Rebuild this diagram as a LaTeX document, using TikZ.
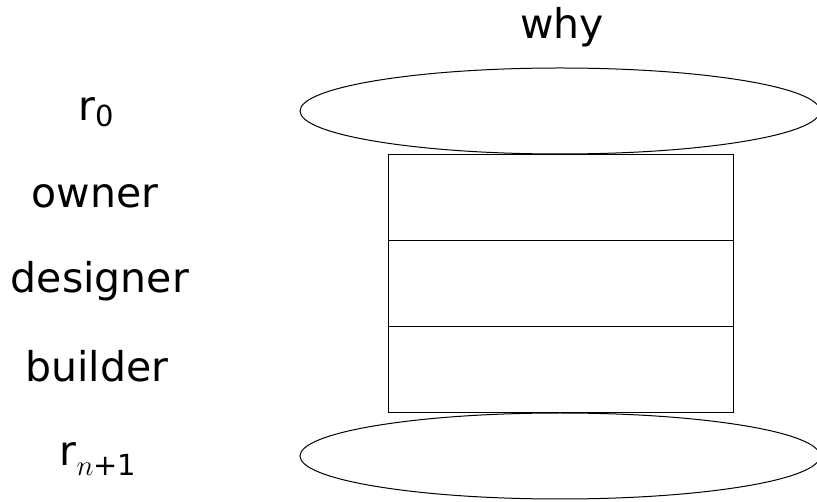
\RequirePackage{fix-cm}
\documentclass[tikz,border=0pt]{standalone}
\usepackage{amsmath}
\usepackage{fontspec}
\setmainfont{DejaVu Sans}
\usetikzlibrary{shapes.geometric}
\newcommand{\subtxt}[2]{\raisebox{#1}{\fontsize{29}{30}\selectfont #2}}
\begin{document}
\begin{tikzpicture}[x=1pt,y=-1pt,
  lbl/.style={font=\fontsize{41}{48}\selectfont, inner sep=0pt},
  oval/.style={draw, ellipse, line width=1pt, minimum width=520pt, minimum height=86pt, inner sep=0pt},
  cell/.style={draw, line width=1pt, minimum width=345pt, minimum height=86pt, inner sep=0pt}]
\useasboundingbox (0,0) rectangle (817,502);
\node[lbl] (why) at (562,27) {why};
\node[oval] (top) at (560,111) {};
\node[cell] (c1) at (560.5,198) {};
\node[cell] (c2) at (560.5,284) {};
\node[cell] (c3) at (560.5,370) {};
\node[oval] (bot) at (560,456) {};
\node[lbl] (r0) at (96,112) {r\subtxt{-6pt}{0}};
\node[lbl] (owner) at (95,196) {owner};
\node[lbl] (designer) at (100,281) {designer};
\node[lbl] (builder) at (97,366) {builder};
\node[lbl] (rn) at (98,459) {r\subtxt{-10pt}{$n$+1}};
\end{tikzpicture}
\end{document}
